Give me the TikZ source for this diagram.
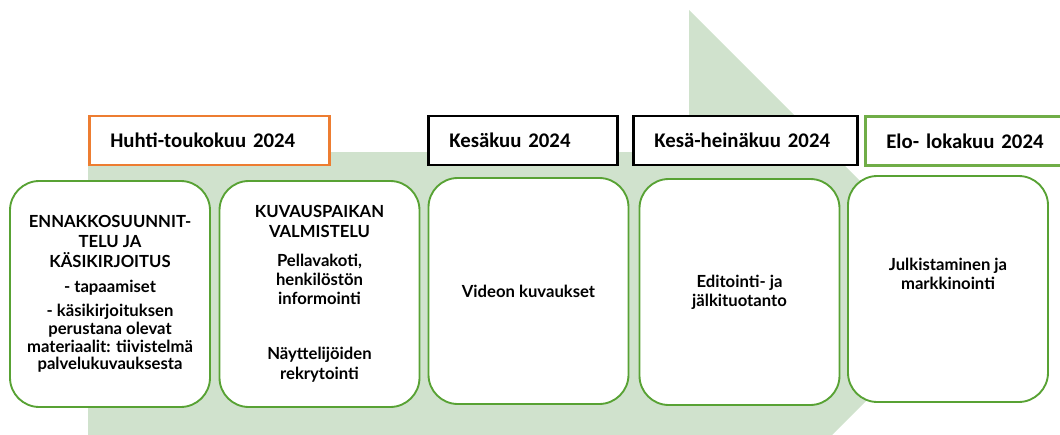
\documentclass[tikz,border=0pt]{standalone}
\usepackage{fontspec}
\usepackage{xcolor}
\usepackage{tikz}
\newfontfamily\datefont{Carlito}
\newfontfamily\boxfont{Lato}

\definecolor{arrowgreen}{RGB}{208,226,205}
\definecolor{boxgreen}{RGB}{88,162,52}
\definecolor{elogreen}{RGB}{112,173,71}
\definecolor{dateorange}{RGB}{237,125,49}

\begin{document}
\begin{tikzpicture}[x=0.75pt,y=-0.75pt,
    phase/.style={draw=boxgreen, line width=1.4pt, fill=white, rounded corners=22pt,
        minimum width=150pt, minimum height=169.5pt, align=center,
        font=\boxfont\bfseries\fontsize{12.5}{13.3}\selectfont},
    datebox/.style={draw, line width=2pt, fill=white, anchor=west, minimum height=36.75pt,
        inner xsep=15.75pt, align=left, font=\datefont\bfseries\fontsize{15.6}{18}\selectfont}]
\useasboundingbox (0,0) rectangle (1060,435);
\clip (0,0) rectangle (1060,435);
% the big arrow behind the boxes
\fill[arrowgreen] (88,152) -- (689,152) -- (689,10) -- (973,294) -- (689,578) -- (689,436) -- (88,436) -- cycle;

% time labels
\node[datebox, draw=dateorange, text width=148.5pt] (huhti) at (88,140.5) {Huhti-toukokuu 2024};
\node[datebox, draw=black, text width=110.25pt] (kesa) at (427,140.5) {Kesäkuu 2024};
\node[datebox, draw=black, text width=136.5pt] (kesahein) at (632,140.5) {Kesä-heinäkuu 2024};
\node[datebox, draw=elogreen, text width=140pt] (elo) at (864,141) {Elo- lokakuu 2024};

% phases
\node[phase] (ennakko) at (110,294) {ENNAKKOSUUNNIT-\\[1.6pt] TELU JA\\[1.6pt] KÄSIKIRJOITUS\\[6pt]
    - tapaamiset\\[4.6pt] - käsikirjoituksen\\ perustana olevat\\ materiaalit: tiivistelmä\\ palvelukuvauksesta};
\node[phase] (kuvauspaikka) at (319.5,294) {KUVAUSPAIKAN\\[1pt] VALMISTELU\\[8.5pt] Pellavakoti,\\[1pt]
    henkilöstön\\[1pt] informointi\\[28pt] Näyttelijöiden\\[1.8pt] rekrytointi};
\node[phase] (kuvaukset) at (528.5,291) {Videon kuvaukset};
\node[phase] (editointi) at (739.5,292) {Editointi- ja\\[1pt] jälkituotanto};
\node[phase] (julkistus) at (948,289) {Julkistaminen ja\\[1pt] markkinointi\\[5.5pt]\strut};
\end{tikzpicture}
\end{document}
